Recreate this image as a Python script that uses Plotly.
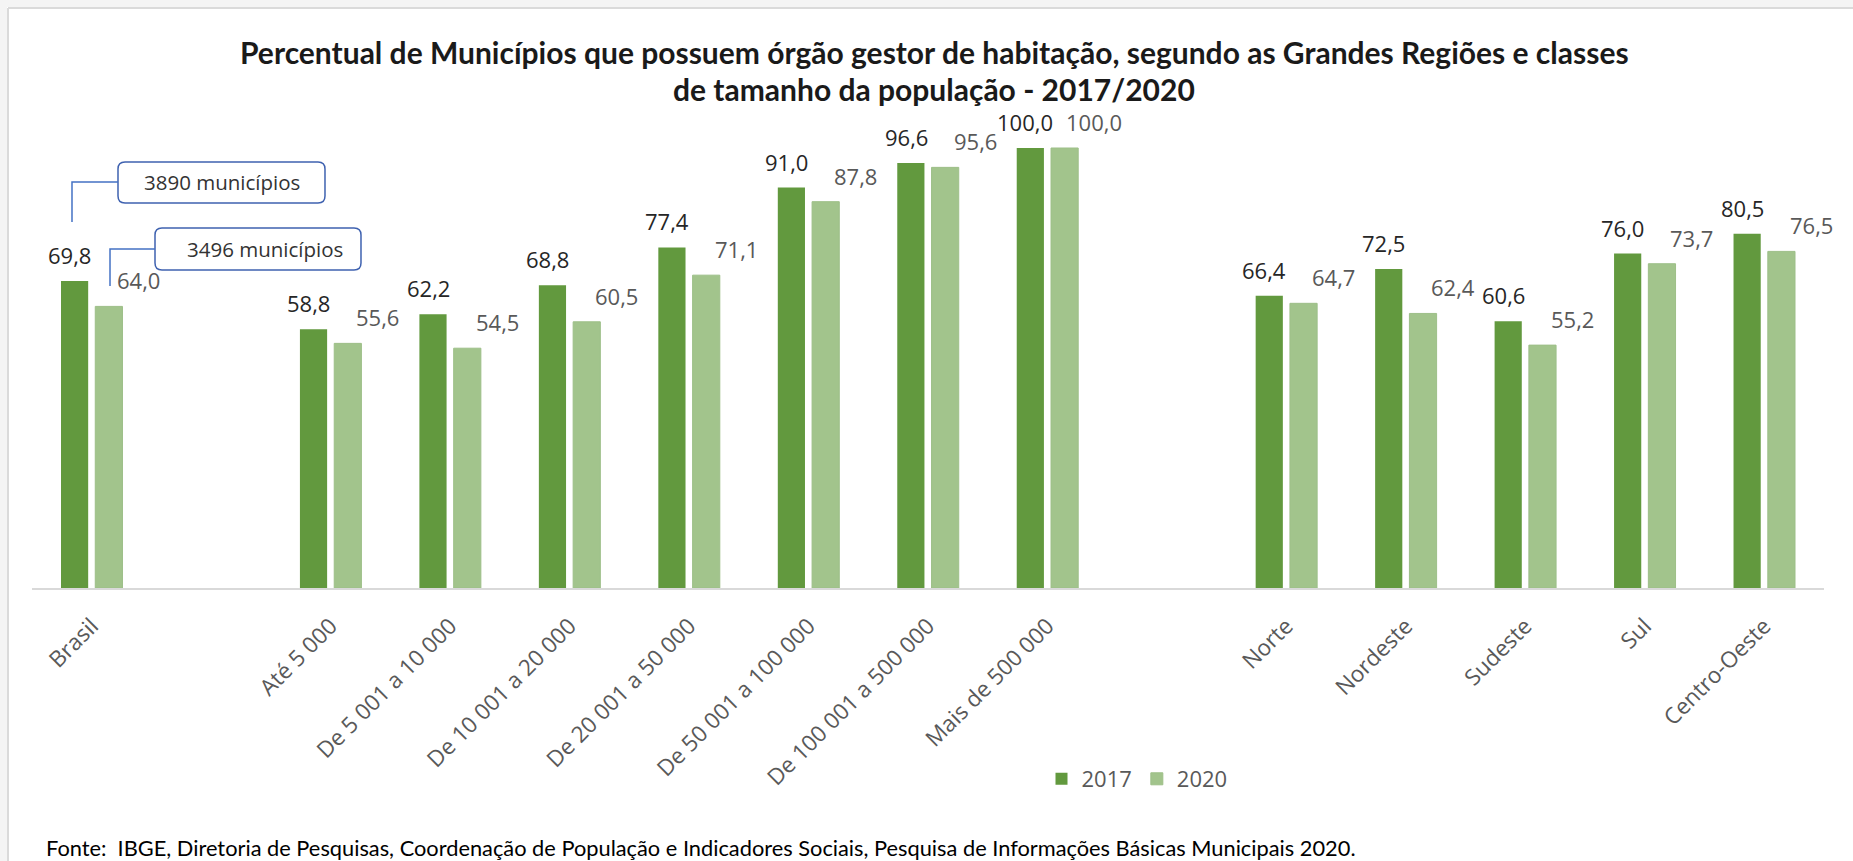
import plotly.graph_objects as go

# ---------------- data ----------------
categories = ["Brasil", " ", "Até 5 000", "De 5 001 a 10 000", "De 10 001 a 20 000",
              "De 20 001 a 50 000", "De 50 001 a 100 000", "De 100 001 a 500 000",
              "Mais de 500 000", "  ", "Norte", "Nordeste", "Sudeste", "Sul", "Centro-Oeste"]
bar_categories = ["Brasil", "Até 5 000", "De 5 001 a 10 000", "De 10 001 a 20 000",
                  "De 20 001 a 50 000", "De 50 001 a 100 000", "De 100 001 a 500 000",
                  "Mais de 500 000", "Norte", "Nordeste", "Sudeste", "Sul", "Centro-Oeste"]
values_2017 = [69.8, 58.8, 62.2, 68.8, 77.4, 91.0, 96.6, 100.0, 66.4, 72.5, 60.6, 76.0, 80.5]
values_2020 = [64.0, 55.6, 54.5, 60.5, 71.1, 87.8, 95.6, 100.0, 64.7, 62.4, 55.2, 73.7, 76.5]
series_names = ["2017", "2020"]
callout_texts = ["3890 municípios", "3496 municípios"]
title_lines = ["Percentual de Municípios que possuem órgão gestor de habitação, segundo as Grandes Regiões e classes",
               "de tamanho da população - 2017/2020"]
source_text = ("Fonte:  IBGE, Diretoria de Pesquisas, Coordenação de População e Indicadores Sociais, "
               "Pesquisa de Informações Básicas Municipais 2020.")

# ---------------- geometry ----------------
W, H = 1853, 861
ML, MR, MT, MB = 32, 29, 104, 273
PW, PH = W - ML - MR, H - MT - MB

def xp(px):
    return (px - ML) / PW

def yp(py):
    return (MT + PH - py) / PH

C2017 = "#62993E"
C2020 = "#A2C48C"

def fmt(v):
    return f"{v:.1f}".replace(".", ",")

fig = go.Figure()
fig.add_trace(go.Bar(x=bar_categories, y=values_2017, name=series_names[0],
                     marker=dict(color=C2017, line=dict(width=0))))
fig.add_trace(go.Bar(x=bar_categories, y=values_2020, name=series_names[1],
                     marker=dict(color=C2020, line=dict(color="#9DBF88", width=1))))

annotations = []
label_font = "Open Sans"
for c, v in zip(bar_categories, values_2017):
    annotations.append(dict(x=c, y=v, xref="x", yref="y", text=fmt(v), showarrow=False,
                            xshift=-22, yshift=26, yanchor="middle", xanchor="center",
                            font=dict(family=label_font, size=22, color="#262626")))
for c, v in zip(bar_categories, values_2020):
    annotations.append(dict(x=c, y=v, xref="x", yref="y", text=fmt(v), showarrow=False,
                            xshift=47, yshift=26, yanchor="middle", xanchor="center",
                            font=dict(family=label_font, size=22, color="#595959")))

# title
annotations.append(dict(x=xp(934), y=yp(52), xref="paper", yref="paper", text=f"<b>{title_lines[0]}</b>",
                        showarrow=False, xanchor="center", yanchor="middle",
                        font=dict(family="Lato", size=30, color="#1a1a1a")))
annotations.append(dict(x=xp(934), y=yp(89), xref="paper", yref="paper", text=f"<b>{title_lines[1]}</b>",
                        showarrow=False, xanchor="center", yanchor="middle",
                        font=dict(family="Lato", size=30, color="#1a1a1a")))
# source
annotations.append(dict(x=xp(44), y=yp(847), xref="paper", yref="paper", text=source_text,
                        showarrow=False, xanchor="left", yanchor="middle",
                        font=dict(family="Lato", size=21.8, color="#000000")))
# callout texts
annotations.append(dict(x=xp(222), y=yp(182), xref="paper", yref="paper", text=callout_texts[0],
                        showarrow=False, xanchor="center", yanchor="middle",
                        font=dict(family=label_font, size=20.5, color="#333333")))
annotations.append(dict(x=xp(265), y=yp(249), xref="paper", yref="paper", text=callout_texts[1],
                        showarrow=False, xanchor="center", yanchor="middle",
                        font=dict(family=label_font, size=20.5, color="#333333")))

def rrect(x0, y0, x1, y1, r):
    def P(x, y):
        return f"{xp(x):.5f},{yp(y):.5f}"
    return (f"M {P(x0 + r, y0)} L {P(x1 - r, y0)} Q {P(x1, y0)} {P(x1, y0 + r)} "
            f"L {P(x1, y1 - r)} Q {P(x1, y1)} {P(x1 - r, y1)} L {P(x0 + r, y1)} "
            f"Q {P(x0, y1)} {P(x0, y1 - r)} L {P(x0, y0 + r)} Q {P(x0, y0)} {P(x0 + r, y0)} Z")

def poly(points):
    return "M " + " L ".join(f"{xp(x):.5f},{yp(y):.5f}" for x, y in points)

shapes = [
    # outer grey frame
    dict(type="rect", xref="paper", yref="paper", x0=xp(0), x1=xp(W), y0=yp(0), y1=yp(7),
         fillcolor="#F4F4F4", line=dict(width=0), layer="below"),
    dict(type="rect", xref="paper", yref="paper", x0=xp(0), x1=xp(7), y0=yp(0), y1=yp(H),
         fillcolor="#F4F4F4", line=dict(width=0), layer="below"),
    dict(type="line", xref="paper", yref="paper", x0=xp(8), x1=xp(W), y0=yp(8), y1=yp(8),
         line=dict(color="#DADADA", width=2)),
    dict(type="line", xref="paper", yref="paper", x0=xp(8), x1=xp(8), y0=yp(8), y1=yp(H),
         line=dict(color="#DADADA", width=2)),
    # callouts
    dict(type="path", xref="paper", yref="paper", path=rrect(118, 162, 325, 203, 7),
         line=dict(color="#3F62B0", width=1.5), fillcolor="rgba(255,255,255,0)"),
    dict(type="path", xref="paper", yref="paper", path=rrect(155, 228, 361, 270, 7),
         line=dict(color="#3F62B0", width=1.5), fillcolor="rgba(255,255,255,0)"),
    dict(type="path", xref="paper", yref="paper", path=poly([(118, 182), (72, 182), (72, 222)]),
         line=dict(color="#4472C4", width=1.5)),
    dict(type="path", xref="paper", yref="paper", path=poly([(155, 249), (110, 249), (110, 286)]),
         line=dict(color="#4472C4", width=1.5)),
]

fig.update_layout(
    width=W, height=H,
    margin=dict(l=ML, r=MR, t=MT, b=MB, pad=0, autoexpand=False),
    paper_bgcolor="white", plot_bgcolor="white",
    barmode="group", bargap=0.426, bargroupgap=0.207,
    showlegend=True,
    legend=dict(orientation="h", x=xp(1137), y=yp(779), xanchor="center", yanchor="middle",
                font=dict(family=label_font, size=22, color="#595959"),
                bgcolor="rgba(0,0,0,0)", itemwidth=30, traceorder="normal"),
    xaxis=dict(type="category", categoryorder="array", categoryarray=categories,
               tickvals=categories, range=[-0.5, len(categories) - 0.5],
               showline=True, linecolor="#D9D9D9", linewidth=2, ticks="",
               tickangle=-45, ticklabelstandoff=14, automargin=False,
               tickfont=dict(family=label_font, size=22.5, color="#595959"),
               showgrid=False, zeroline=False, fixedrange=True),
    yaxis=dict(range=[0, 110], visible=False, showgrid=False, zeroline=False, fixedrange=True,
               automargin=False),
    annotations=annotations,
    shapes=shapes,
    font=dict(family=label_font),
)

fig.write_html("out.html", config={"displayModeBar": False},
               post_script="document.body.style.margin='0';document.body.style.overflow='hidden';")
